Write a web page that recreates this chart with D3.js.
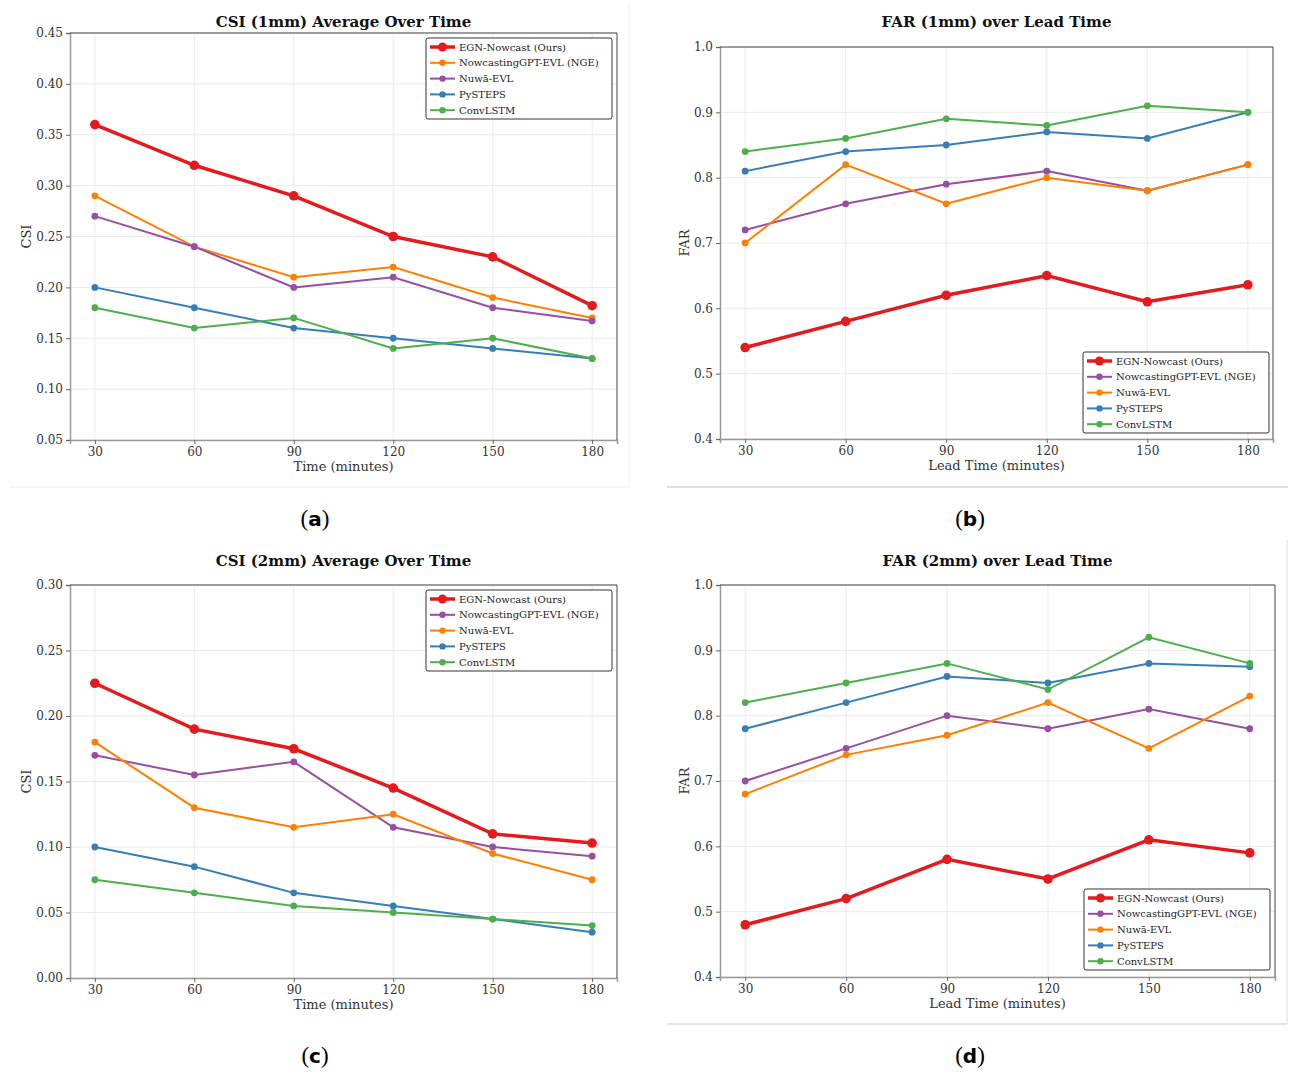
<!DOCTYPE html>
<html>
<head>
<meta charset="utf-8">
<script src="https://cdn.jsdelivr.net/npm/d3@7"></script>
<style>
  body { margin: 0; background: #fff; }
  text { font-family: "DejaVu Serif", serif; }
</style>
</head>
<body>
<script>
// lead times (minutes)
var leadTimes = [30, 60, 90, 120, 150, 180];

// (a) CSI 1mm
var csi1_egn = [0.36, 0.32, 0.29, 0.25, 0.23, 0.182];
var csi1_nge = [0.29, 0.24, 0.21, 0.22, 0.19, 0.17];
var csi1_nuwa = [0.27, 0.24, 0.20, 0.21, 0.18, 0.167];
var csi1_pysteps = [0.20, 0.18, 0.16, 0.15, 0.14, 0.13];
var csi1_convlstm = [0.18, 0.16, 0.17, 0.14, 0.15, 0.13];

// (b) FAR 1mm
var far1_egn = [0.54, 0.58, 0.62, 0.65, 0.61, 0.636];
var far1_nge = [0.72, 0.76, 0.79, 0.81, 0.78, 0.82];
var far1_nuwa = [0.70, 0.82, 0.76, 0.80, 0.78, 0.82];
var far1_pysteps = [0.81, 0.84, 0.85, 0.87, 0.86, 0.90];
var far1_convlstm = [0.84, 0.86, 0.89, 0.88, 0.91, 0.90];

// (c) CSI 2mm
var csi2_egn = [0.225, 0.19, 0.175, 0.145, 0.11, 0.103];
var csi2_nge = [0.17, 0.155, 0.165, 0.115, 0.10, 0.093];
var csi2_nuwa = [0.18, 0.13, 0.115, 0.125, 0.095, 0.075];
var csi2_pysteps = [0.10, 0.085, 0.065, 0.055, 0.045, 0.035];
var csi2_convlstm = [0.075, 0.065, 0.055, 0.05, 0.045, 0.04];

// (d) FAR 2mm
var far2_egn = [0.48, 0.52, 0.58, 0.55, 0.61, 0.59];
var far2_nge = [0.70, 0.75, 0.80, 0.78, 0.81, 0.78];
var far2_nuwa = [0.68, 0.74, 0.77, 0.82, 0.75, 0.83];
var far2_pysteps = [0.78, 0.82, 0.86, 0.85, 0.88, 0.875];
var far2_convlstm = [0.82, 0.85, 0.88, 0.84, 0.92, 0.88];

var csi1Ticks = [0.05, 0.10, 0.15, 0.20, 0.25, 0.30, 0.35, 0.40, 0.45];
var csi2Ticks = [0.00, 0.05, 0.10, 0.15, 0.20, 0.25, 0.30];
var farTicks = [0.4, 0.5, 0.6, 0.7, 0.8, 0.9, 1.0];

var red = "#e41a1c", orange = "#ff7f00", purple = "#984ea3", blue = "#377eb8", green = "#4daf4a";

var w = 1296, h = 1078;
var svg = d3.select("body").append("svg")
  .attr("width", w).attr("height", h);

// faint edges of the original subfigure images
var edges = [
  [10, 487, 629, 487, "#eee"], [629, 5, 629, 487, "#eee"],
  [667, 487, 1288, 487, "#bbb"],
  [667, 1024, 1287, 1024, "#ccc"], [1287, 540, 1287, 1024, "#ddd"]
];
svg.selectAll("line.edge").data(edges).enter().append("line")
  .attr("class", "edge")
  .attr("x1", d => d[0]).attr("y1", d => d[1])
  .attr("x2", d => d[2]).attr("y2", d => d[3])
  .attr("stroke", d => d[4]).attr("stroke-width", 1);

function drawPanel(p) {
  var x = d3.scaleLinear().domain([22.5, 187.5]).range([p.left, p.right]);
  var y = d3.scaleLinear().domain(p.yDomain).range([p.bottom, p.top]);
  var g = svg.append("g");

  // grid
  g.selectAll("line.gx").data(leadTimes).enter().append("line")
    .attr("x1", d => x(d)).attr("x2", d => x(d))
    .attr("y1", p.top).attr("y2", p.bottom)
    .attr("stroke", "#ebebeb").attr("stroke-width", 1);
  g.selectAll("line.gy").data(p.yTicks).enter().append("line")
    .attr("x1", p.left).attr("x2", p.right)
    .attr("y1", d => y(d)).attr("y2", d => y(d))
    .attr("stroke", "#ebebeb").attr("stroke-width", 1);

  // axes
  var xAxis = g.append("g").attr("transform", "translate(0," + p.bottom + ")")
    .call(d3.axisBottom(x).tickValues(leadTimes).tickSize(4).tickPadding(3));
  var yAxis = g.append("g").attr("transform", "translate(" + p.left + ",0)")
    .call(d3.axisLeft(y).tickValues(p.yTicks).tickFormat(d3.format(p.fmt)).tickSize(4).tickPadding(3));
  [xAxis, yAxis].forEach(function(a) {
    a.select(".domain").attr("stroke", "#999").attr("stroke-width", 1.5);
    a.selectAll(".tick line").attr("stroke", "#666");
    a.selectAll(".tick text").attr("fill", "#333")
      .style("font-family", "'DejaVu Serif', serif").style("font-size", "12px");
  });
  // top & right spines
  g.append("line").attr("x1", p.left).attr("x2", p.right).attr("y1", p.top).attr("y2", p.top)
    .attr("stroke", "#444").attr("stroke-width", 1);
  g.append("line").attr("x1", p.right).attr("x2", p.right).attr("y1", p.top).attr("y2", p.bottom)
    .attr("stroke", "#444").attr("stroke-width", 1);

  // series
  var line = d3.line().x((d, i) => x(leadTimes[i])).y(d => y(d));
  p.series.forEach(function(s) {
    var main = s.name.indexOf("EGN") === 0;
    g.append("path").datum(s.values)
      .attr("d", line).attr("fill", "none")
      .attr("stroke", s.color).attr("stroke-width", main ? 3.5 : 2);
    g.selectAll(null).data(s.values).enter().append("circle")
      .attr("cx", (d, i) => x(leadTimes[i])).attr("cy", d => y(d))
      .attr("r", main ? 4.8 : 3.4).attr("fill", s.color);
  });

  // titles and labels
  var cx = (p.left + p.right) / 2;
  g.append("text").attr("x", cx).attr("y", p.titleY).attr("text-anchor", "middle")
    .style("font-size", "15px").style("font-weight", "bold").attr("fill", "#111").text(p.title);
  g.append("text").attr("x", cx).attr("y", p.bottom + 31).attr("text-anchor", "middle")
    .style("font-size", "13px").attr("fill", "#333").text(p.xLabel);
  g.append("text").attr("transform", "translate(" + p.yLabelX + "," + ((p.top + p.bottom) / 2) + ") rotate(-90)")
    .attr("text-anchor", "middle").style("font-size", "13px").attr("fill", "#333").text(p.yLabel);

  // legend
  var lg = g.append("g").attr("transform", "translate(" + p.legend[0] + "," + p.legend[1] + ")");
  lg.append("rect").attr("x", 0).attr("y", 0).attr("width", 186).attr("height", 81)
    .attr("rx", 2).attr("fill", "#fff").attr("stroke", "#333").attr("stroke-width", 1);
  p.series.forEach(function(s, i) {
    var main = s.name.indexOf("EGN") === 0;
    var yy = 9 + i * 15.8;
    lg.append("line").attr("x1", 4).attr("x2", 29).attr("y1", yy).attr("y2", yy)
      .attr("stroke", s.color).attr("stroke-width", main ? 3.5 : 2);
    lg.append("circle").attr("cx", 16.5).attr("cy", yy).attr("r", main ? 4.5 : 3.2).attr("fill", s.color);
    lg.append("text").attr("x", 33).attr("y", yy + 3.5)
      .style("font-size", "10px").attr("fill", "#222").text(s.name);
  });

  // subfigure label
  var sub = svg.append("text").attr("x", p.subX).attr("y", p.subY).attr("text-anchor", "middle")
    .style("font-family", "'Liberation Serif', serif").style("font-size", "23px").attr("fill", "#000");
  sub.append("tspan").text("(");
  sub.append("tspan").style("font-weight", "bold").style("font-family", "'DejaVu Sans', sans-serif")
    .style("font-size", "20px").text(p.sub);
  sub.append("tspan").text(")");
}

drawPanel({
  left: 70, right: 617, top: 33, bottom: 440, titleY: 27, yLabelX: 31,
  yDomain: [0.05, 0.45], yTicks: csi1Ticks, fmt: ".2f",
  title: "CSI (1mm) Average Over Time", xLabel: "Time (minutes)", yLabel: "CSI",
  legend: [426, 38], sub: "a", subX: 315, subY: 526,
  series: [
    { name: "EGN-Nowcast (Ours)", color: red, values: csi1_egn },
    { name: "NowcastingGPT-EVL (NGE)", color: orange, values: csi1_nge },
    { name: "Nuwā-EVL", color: purple, values: csi1_nuwa },
    { name: "PySTEPS", color: blue, values: csi1_pysteps },
    { name: "ConvLSTM", color: green, values: csi1_convlstm }
  ]
});

drawPanel({
  left: 720, right: 1273, top: 47, bottom: 439, titleY: 27, yLabelX: 689,
  yDomain: [0.4, 1.0], yTicks: farTicks, fmt: ".1f",
  title: "FAR (1mm) over Lead Time", xLabel: "Lead Time (minutes)", yLabel: "FAR",
  legend: [1083, 352], sub: "b", subX: 970, subY: 526,
  series: [
    { name: "EGN-Nowcast (Ours)", color: red, values: far1_egn },
    { name: "NowcastingGPT-EVL (NGE)", color: purple, values: far1_nge },
    { name: "Nuwā-EVL", color: orange, values: far1_nuwa },
    { name: "PySTEPS", color: blue, values: far1_pysteps },
    { name: "ConvLSTM", color: green, values: far1_convlstm }
  ]
});

drawPanel({
  left: 70, right: 617, top: 585, bottom: 978, titleY: 566, yLabelX: 31,
  yDomain: [0.0, 0.30], yTicks: csi2Ticks, fmt: ".2f",
  title: "CSI (2mm) Average Over Time", xLabel: "Time (minutes)", yLabel: "CSI",
  legend: [426, 590], sub: "c", subX: 315, subY: 1063,
  series: [
    { name: "EGN-Nowcast (Ours)", color: red, values: csi2_egn },
    { name: "NowcastingGPT-EVL (NGE)", color: purple, values: csi2_nge },
    { name: "Nuwā-EVL", color: orange, values: csi2_nuwa },
    { name: "PySTEPS", color: blue, values: csi2_pysteps },
    { name: "ConvLSTM", color: green, values: csi2_convlstm }
  ]
});

drawPanel({
  left: 720, right: 1275, top: 585, bottom: 977, titleY: 566, yLabelX: 689,
  yDomain: [0.4, 1.0], yTicks: farTicks, fmt: ".1f",
  title: "FAR (2mm) over Lead Time", xLabel: "Lead Time (minutes)", yLabel: "FAR",
  legend: [1084, 889], sub: "d", subX: 970, subY: 1063,
  series: [
    { name: "EGN-Nowcast (Ours)", color: red, values: far2_egn },
    { name: "NowcastingGPT-EVL (NGE)", color: purple, values: far2_nge },
    { name: "Nuwā-EVL", color: orange, values: far2_nuwa },
    { name: "PySTEPS", color: blue, values: far2_pysteps },
    { name: "ConvLSTM", color: green, values: far2_convlstm }
  ]
});
</script>
</body>
</html>
